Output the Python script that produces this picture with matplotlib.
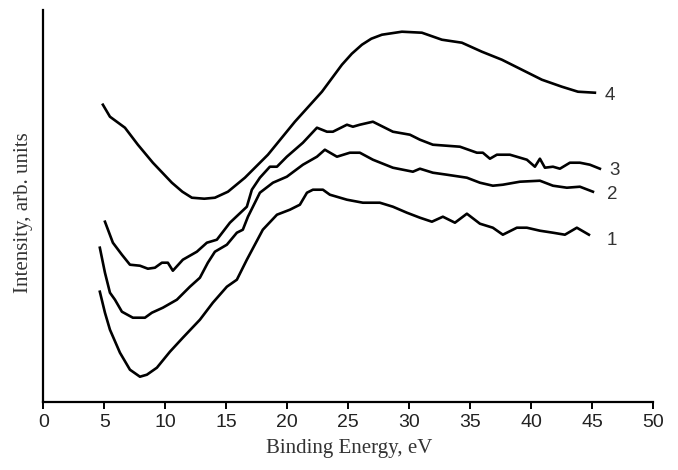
import matplotlib
matplotlib.use("Agg")
import matplotlib.pyplot as plt

# ---- data (binding energy in eV, intensity in arbitrary units) ----
x1 = [4.63, 5.05, 5.46, 6.28, 7.10, 7.92, 8.49, 9.31, 10.38, 11.44, 12.84, 13.90, 15.05, 15.87,
      16.69, 18.00, 19.16, 20.22, 21.04, 21.62, 22.11, 22.93, 23.50, 24.90, 26.21, 27.60, 28.67,
      29.82, 30.89, 31.87, 32.77, 33.76, 34.74, 35.81, 36.87, 37.69, 38.84, 39.66, 40.73, 41.80,
      42.78, 43.76, 44.75]
y1 = [110, 89, 72, 49, 32, 25, 27, 34, 50, 64, 82, 99, 115, 122,
      142, 172, 187, 192, 197, 209, 212, 212, 207, 202, 199, 199, 195,
      189, 184, 180, 185, 179, 188, 178, 174, 167, 174, 174, 171, 169,
      167, 174, 167]

x2 = [4.63, 5.05, 5.46, 5.87, 6.44, 7.34, 8.33, 8.90, 9.80, 10.95, 12.02, 12.84, 13.49, 14.07,
      15.05, 15.87, 16.36, 16.78, 17.76, 18.83, 19.97, 21.29, 22.44, 23.09, 24.08, 25.14, 25.96,
      27.03, 28.67, 30.31, 30.89, 31.95, 33.10, 34.74, 35.81, 36.87, 37.69, 39.09, 40.73, 41.80,
      42.94, 44.01, 45.08]
y2 = [154, 129, 109, 102, 90, 84, 84, 89, 94, 102, 115, 124, 139, 150,
      157, 169, 172, 185, 209, 219, 225, 237, 245, 252, 245, 249, 249,
      242, 234, 230, 233, 229, 227, 224, 219, 216, 217, 220, 221, 216,
      214, 215, 210]

x3 = [5.05, 5.70, 6.44, 7.10, 7.92, 8.57, 9.15, 9.72, 10.21, 10.62, 11.44, 12.59, 13.41, 14.23,
      15.30, 16.69, 17.10, 17.76, 18.58, 19.16, 19.97, 21.29, 22.44, 23.26, 23.75, 24.90, 25.39,
      25.96, 27.03, 28.67, 30.07, 30.89, 31.95, 34.17, 35.56, 36.05, 36.63, 37.20, 38.27, 39.66,
      40.32, 40.73, 41.14, 41.80, 42.37, 43.19, 44.01, 44.83, 45.65]
y3 = [180, 159, 147, 137, 136, 133, 134, 139, 139, 131, 142, 150, 159, 162,
      179, 195, 212, 224, 235, 235, 245, 259, 274, 270, 270, 277, 275,
      277, 280, 270, 267, 262, 257, 255, 249, 249, 243, 247, 247, 242,
      235, 243, 234, 235, 233, 239, 239, 237, 233]

x4 = [4.88, 5.46, 6.69, 7.75, 8.98, 10.54, 11.40, 12.18, 13.20, 14.07, 15.14, 16.53, 18.42, 20.63,
      22.85, 24.49, 25.30, 26.13, 26.90, 27.77, 29.41, 31.05, 32.69, 34.33, 35.97, 37.61, 39.25,
      40.89, 42.53, 43.85, 45.24]
y4 = [297, 285, 274, 257, 239, 219, 210, 204, 203, 204, 210, 224, 247, 280,
      310, 337, 348, 357, 363, 367, 370, 369, 362, 359, 350, 342, 332,
      322, 315, 310, 309]

curve_labels = ["1", "2", "3", "4"]
x_ticks = [0, 5, 10, 15, 20, 25, 30, 35, 40, 45, 50]

# ---- figure ----
fig = plt.figure(figsize=(6.78, 4.70), dpi=100)
ax = fig.add_axes([0.064, 0.1453, 0.899, 0.8334])

for xs, ys in [(x1, y1), (x2, y2), (x3, y3), (x4, y4)]:
    ax.plot(xs, ys, color="black", lw=1.9, solid_joinstyle="round")

label_pos = [(46.64, 161.7), (46.64, 207.7), (46.88, 231.7), (46.47, 306.7)]
for lab, (lx, ly) in zip(curve_labels, label_pos):
    ax.text(lx, ly, lab, fontsize=13.5, family="Liberation Sans", color="#333333",
            ha="center", va="center")

ax.set_xlim(0, 50)
ax.set_ylim(0, 391.7)
ax.set_xticks(x_ticks)
ax.set_xticklabels([str(t) for t in x_ticks], fontsize=14, family="Liberation Sans",
                   color="#222222")
ax.set_yticks([])
ax.tick_params(axis="x", direction="out", length=5, width=1.4, pad=4)

for s in ["top", "right"]:
    ax.spines[s].set_visible(False)
for s in ["left", "bottom"]:
    ax.spines[s].set_linewidth(1.6)

fig.text(0.515, 0.026, "Binding Energy, eV", fontsize=15, family="Liberation Serif",
         color="#333333", ha="center", va="bottom")
fig.text(0.034, 0.547, "Intensity, arb. units", fontsize=15, family="Liberation Serif",
         color="#333333", ha="center", va="center", rotation=90)

fig.savefig("out.png", dpi=100)
